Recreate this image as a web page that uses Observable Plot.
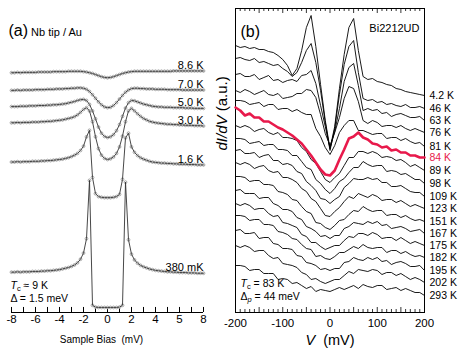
<!DOCTYPE html>
<html><head><meta charset="utf-8">
<script src="https://cdn.jsdelivr.net/npm/d3@7"></script>
<script src="https://cdn.jsdelivr.net/npm/@observablehq/plot@0.6"></script>
<style>
body{margin:0;background:#fff;}
#wrap{position:relative;width:463px;height:356px;overflow:hidden;}
#wrap svg{position:absolute;top:0;}
</style></head><body><div id="wrap"></div>
<script>
// ---------- Panel (a): Nb tip / Au ----------
const biasA = [-8,-7.75,-7.5,-7.25,-7,-6.75,-6.5,-6.25,-6,-5.75,-5.5,-5.25,-5,-4.75,-4.5,-4.25,-4,-3.75,-3.5,-3.25,-3,-2.75,-2.5,-2.25,-2,-1.75,-1.5,-1.25,-1,-0.75,-0.5,-0.25,0,0.25,0.5,0.75,1,1.25,1.5,1.75,2,2.25,2.5,2.75,3,3.25,3.5,3.75,4,4.25,4.5,4.75,5,5.25,5.5,5.75,6,6.25,6.5,6.75,7,7.25,7.5,7.75,8];
const g86K = [6.66,6.66,6.67,6.66,6.67,6.67,6.67,6.67, 6.67,6.68,6.68,6.68,6.68,6.68,6.69,6.69, 6.69,6.69,6.69,6.7,6.7,6.7,6.7,6.7, 6.69,6.68,6.66,6.64,6.61,6.58,6.55,6.53, 6.52,6.53,6.55,6.58,6.61,6.64,6.66,6.68, 6.69,6.7,6.7,6.7,6.7,6.7,6.7,6.7, 6.7,6.7,6.7,6.7,6.7,6.7,6.71,6.71, 6.71,6.71,6.71,6.71,6.71,6.71,6.71,6.71,6.71];
const g70K = [6.17,6.17,6.18,6.17,6.18,6.18,6.18,6.18, 6.19,6.19,6.19,6.19,6.2,6.2,6.2,6.21, 6.21,6.21,6.22,6.22,6.23,6.23,6.24,6.24, 6.23,6.2,6.14,6.05,5.95,5.85,5.77,5.71, 5.69,5.7,5.75,5.83,5.93,6.03,6.12,6.18, 6.22,6.23,6.23,6.22,6.22,6.21,6.21,6.21, 6.2,6.2,6.2,6.2,6.19,6.19,6.19,6.19, 6.19,6.18,6.18,6.18,6.18,6.18,6.18,6.18,6.18];
const g50K = [5.72,5.72,5.72,5.73,5.73,5.73,5.74,5.74, 5.74,5.75,5.75,5.75,5.76,5.76,5.77,5.77, 5.78,5.79,5.8,5.82,5.84,5.86,5.89,5.91, 5.92,5.89,5.78,5.6,5.38,5.15,4.98,4.89, 4.86,4.88,4.94,5.05,5.22,5.45,5.68,5.83, 5.89,5.88,5.85,5.82,5.79,5.77,5.75,5.73, 5.72,5.71,5.71,5.7,5.7,5.7,5.69,5.69, 5.69,5.69,5.68,5.68,5.68,5.67,5.67,5.67,5.67];
const g30K = [5.27,5.27,5.28,5.27,5.28,5.28,5.28,5.29, 5.29,5.29,5.3,5.3,5.31,5.31,5.32,5.33, 5.34,5.35,5.37,5.39,5.41,5.44,5.49,5.56, 5.64,5.69,5.6,5.3,4.88,4.55,4.37,4.28, 4.25,4.27,4.32,4.42,4.6,4.9,5.3,5.6, 5.67,5.6,5.52,5.45,5.39,5.35,5.31,5.29, 5.27,5.26,5.25,5.24,5.23,5.23,5.22,5.22, 5.21,5.21,5.2,5.2,5.2,5.19,5.19,5.19,5.18];
const g16K = [4.18,4.18,4.19,4.18,4.19,4.19,4.19,4.2, 4.2,4.2,4.21,4.21,4.22,4.22,4.23,4.24, 4.25,4.26,4.28,4.3,4.33,4.37,4.42,4.5, 4.62,4.88,5.06,3.75,3.3,3.22,3.2,3.19, 3.19,3.19,3.2,3.22,3.28,3.7,4.85,4.98, 4.6,4.45,4.36,4.3,4.26,4.23,4.2,4.18, 4.17,4.16,4.15,4.15,4.14,4.14,4.13,4.13, 4.12,4.12,4.12,4.11,4.11,4.11,4.1,4.1,4.1];
const g380mK = [1.12,1.12,1.13,1.12,1.13,1.13,1.13,1.14, 1.14,1.14,1.15,1.15,1.16,1.16,1.17,1.18, 1.19,1.21,1.23,1.25,1.28,1.32,1.38,1.48, 1.65,2.05,3.67,0.2,0.15,0.14,0.14,0.14, 0.14,0.14,0.14,0.14,0.15,0.2,3.62,2.02, 1.62,1.46,1.37,1.31,1.27,1.24,1.21,1.19, 1.17,1.16,1.15,1.14,1.13,1.13,1.12,1.12, 1.11,1.11,1.11,1.1,1.1,1.1,1.09,1.09,1.09];
const namesA = ["8.6 K","7.0 K","5.0 K","3.0 K","1.6 K","380 mK"];
const curvesA = [g86K,g70K,g50K,g30K,g16K,g380mK];
const ticksA = [-8,-6,-4,-2,0,2,4,6,8];
const tickLabelsA = ["-8","-6","-4","-2","0","2","4","5","8"];
const minorA = [-8,-7,-6,-5,-4,-3,-2,-1,0,1,2,3,4,5,6,7,8];

// ---------- Panel (b): Bi2212UD ----------
const vB = [-200,-190,-180,-170,-160,-150,-140,-130,-120,-110,-100,-90,-80,-70,-60,-50,-40,-30,-20,-10,0,10,20,30,40,50,60,70,80,90,100,110,120,130,140,150,160,170,180,190,200];
const c4K  = [267,265,266,264,265,263,263,261,260,257,253,247,237,244,262,285,297,266,228,192,164,186,224,258,285,294,262,236,233,234,231,230,228,227,224,223,221,220,219,218,217];
const c46K = [254,255,253,252,254,250,251,249,247,248,244,241,236,240,250,262,269,250,222,190,162,184,218,248,266,272,240,214,212,213,210,211,208,209,207,206,208,205,205,206,204];
const c63K = [238,239,236,236,238,233,235,237,232,233,230,232,233,231,237,238,242,229,207,186,164,181,204,231,245,249,227,202,204,202,203,199,200,196,198,199,197,195,195,196,192];
const c76K = [222,220,223,221,218,220,222,218,217,219,214,215,216,219,219,223,222,215,198,179,167,180,195,214,226,224,211,192,189,192,190,186,187,187,185,187,184,182,184,182,180];
const c81K = [212,212,211,208,209,210,206,208,208,203,204,204,201,203,200,198,198,184,176,165,158,167,180,187,192,192,182,182,180,178,179,179,174,175,175,172,174,171,169,170,166];
const c84K = [205,202,197,199,195,195,191,191,188,185,183,180,177,173,169,163,157,150,143,138,137,142,153,163,174,176,180,175,173,169,168,165,166,162,163,160,160,157,157,155,155];
const c89K = [187,185,187,185,181,183,184,180,178,180,175,175,174,172,165,161,153,149,141,133,130,135,139,147,155,155,161,161,159,161,159,155,156,155,152,153,150,146,148,145,142];
const c98K = [174,174,173,169,170,171,167,168,168,163,163,162,157,157,151,145,143,133,129,123,119,124,131,134,140,145,145,151,148,146,147,147,141,142,141,138,139,136,133,133,129];
const c109K = [162,163,159,159,160,155,157,158,152,152,148,149,147,141,139,131,127,122,114,113,109,113,116,125,129,134,133,133,135,133,134,130,130,126,126,127,124,121,120,120,116];
const c123K = [150,148,150,148,144,146,147,142,140,141,135,135,133,130,124,121,114,111,104,97,96,101,105,111,116,114,119,117,115,118,116,112,113,113,110,112,109,106,108,106,104];
const c151K = [136,136,135,131,132,132,128,128,127,121,120,118,113,112,106,101,99,90,89,85,83,87,92,93,98,102,101,106,103,101,102,102,97,98,98,95,97,94,92,93,91];
const c167K = [122,123,119,119,119,114,115,115,109,107,103,103,101,95,93,86,84,81,76,77,74,77,77,84,86,90,89,88,91,89,91,87,88,84,85,86,84,81,82,83,79];
const c175K = [109,107,109,107,103,104,104,99,96,97,90,89,87,85,78,76,70,70,66,63,65,67,67,72,76,75,79,79,77,80,78,74,75,75,72,75,72,69,71,69,67];
const c182K = [97,97,96,92,93,93,88,88,87,81,80,78,74,73,68,64,63,56,57,54,53,56,60,60,63,66,64,68,65,64,65,65,60,62,62,59,61,58,56,57,55];
const c195K = [82,83,79,79,80,74,75,75,69,68,64,64,63,57,56,50,49,47,43,44,42,44,44,50,51,55,53,52,55,53,55,51,52,48,50,51,49,46,46,47,42];
const c202K = [67,65,67,65,61,62,62,57,54,55,49,48,47,45,40,38,33,34,31,29,31,33,33,37,41,39,43,42,41,43,42,38,40,40,37,39,36,33,35,33,30];
const c293K = [47,47,46,42,43,43,39,39,39,33,34,33,29,30,27,24,26,21,23,22,21,23,25,23,25,27,24,28,26,25,27,27,23,24,25,22,24,22,20,20,17];
const namesB = ["4.2 K","46 K","63 K","76 K","81 K","84 K","89 K","98 K","109 K","123 K","151 K","167 K","175 K","182 K","195 K","202 K","293 K"];
const curvesB = [c4K,c46K,c63K,c76K,c81K,c84K,c89K,c98K,c109K,c123K,c151K,c167K,c175K,c182K,c195K,c202K,c293K];
const highlightB = "84 K";
const ticksB = [-200,-100,0,100,200];
const tickLabelsB = ["-200","-100","0","100","200"];
const minorB = [-190,-180,-170,-160,-140,-130,-120,-110,-90,-80,-70,-60,-40,-30,-20,-10,10,20,30,40,60,70,80,90,110,120,130,140,160,170,180,190];
const majorB = [-150,-100,-50,0,50,100,150];

// ---------- build tables ----------
const rowsA = [];
namesA.forEach((n, k) => biasA.forEach((v, i) => rowsA.push({T: n, V: v, G: curvesA[k][i]})));
const endsA = namesA.map((n, k) => ({T: n, V: biasA[biasA.length - 1], G: curvesA[k][curvesA[k].length - 1]}));
const rowsB = [];
namesB.forEach((n, k) => vB.forEach((v, i) => rowsB.push({T: n, V: v, G: curvesB[k][i]})));
const endsB = namesB.map((n, k) => ({T: n, V: vB[vB.length - 1], G: curvesB[k][curvesB[k].length - 1]}));

const FONT = "'Liberation Sans', Arial, Helvetica, sans-serif";
const RED = "#e8194b";
const baseStyle = {background: "transparent", fontFamily: FONT, fontSize: "11px", color: "black", overflow: "visible"};

const plotA = Plot.plot({
  width: 213, height: 356,
  marginLeft: 11, marginRight: 10, marginTop: 6, marginBottom: 44,
  style: baseStyle,
  x: {domain: [-8, 8], axis: null},
  y: {domain: [0, 8.5], axis: null},
  marks: [
    Plot.ruleY([0], {stroke: "black", strokeWidth: 1}),
    Plot.ruleX(minorA, {y1: 0, y2: 0.14, stroke: "black", strokeWidth: 1}),
    Plot.axisX(ticksA, {anchor: "bottom", tickSize: 0, tickPadding: 2, label: null, fontSize: 11.5,
      tickFormat: d => tickLabelsA[ticksA.indexOf(d)]}),
    Plot.dot(rowsA, {x: "V", y: "G", r: 1.4, stroke: "#8f8f8f", strokeWidth: 0.8, fill: "white"}),
    Plot.line(rowsA, {x: "V", y: "G", z: "T", stroke: "#333", strokeWidth: 0.9}),
    Plot.text(endsA, {x: "V", y: "G", text: "T", textAnchor: "end", dy: -5.5, fontSize: 11}),
    Plot.text(["(a) Nb tip / Au"], {text: d => d, frameAnchor: "top-left", textAnchor: "start", dx: -3, dy: 21.5, fontSize: 11}),
    Plot.text(["Tc ≈ 9 K"], {text: d => d, frameAnchor: "bottom-left", textAnchor: "start", dx: -1, dy: -24, fontSize: 10.5}),
    Plot.text(["Δ = 1.5 meV"], {text: d => d, frameAnchor: "bottom-left", textAnchor: "start", dx: -1, dy: -11, fontSize: 10.5}),
    Plot.text(["Sample Bias  (mV)"], {text: d => d, frameAnchor: "bottom", dx: -6, dy: 30, fontSize: 10})
  ]
});

const plotB = Plot.plot({
  width: 250, height: 356,
  marginLeft: 22, marginRight: 39, marginTop: 8, marginBottom: 44,
  style: baseStyle,
  x: {domain: [-200, 200], axis: null},
  y: {domain: [0, 304], axis: null},
  marks: [
    Plot.ruleX(minorB, {y1: 0, y2: 3, stroke: "black", strokeWidth: 0.8}),
    Plot.ruleX(majorB, {y1: 0, y2: 5, stroke: "black", strokeWidth: 0.8}),
    Plot.ruleX(minorB, {y1: 304, y2: 301, stroke: "black", strokeWidth: 0.8}),
    Plot.ruleX(majorB, {y1: 304, y2: 299, stroke: "black", strokeWidth: 0.8}),
    Plot.frame({stroke: "black", strokeWidth: 1}),
    Plot.axisX(ticksB, {anchor: "bottom", tickSize: 0, tickPadding: 6, label: null, fontSize: 11.5,
      tickFormat: d => tickLabelsB[ticksB.indexOf(d)]}),
    Plot.line(rowsB, {filter: d => d.T !== highlightB, x: "V", y: "G", z: "T", stroke: "black", strokeWidth: 0.9}),
    Plot.line(rowsB, {filter: d => d.T === highlightB, x: "V", y: "G", z: "T", stroke: RED, strokeWidth: 2.6}),
    Plot.text(endsB, {x: "V", y: "G", text: "T", textAnchor: "start", dx: 5, fontSize: 10.5,
      fill: d => d.T === highlightB ? RED : "black"}),
    Plot.text(["(b)"], {text: d => d, frameAnchor: "top-left", textAnchor: "start", dx: 5, dy: 17.5, fontSize: 16}),
    Plot.text(["Bi2212UD"], {text: d => d, frameAnchor: "top-right", textAnchor: "end", dx: -5, dy: 16, fontSize: 11}),
    Plot.text(["Tc = 83 K"], {text: d => d, frameAnchor: "bottom-left", textAnchor: "start", dx: 5, dy: -26, fontSize: 10.5}),
    Plot.text(["Δp = 44 meV"], {text: d => d, frameAnchor: "bottom-left", textAnchor: "start", dx: 5, dy: -13, fontSize: 10.5}),
    Plot.text(["V  (mV)"], {text: d => d, frameAnchor: "bottom", dy: 32, fontSize: 14.5}),
    Plot.text(["dI/dV (a.u.)"], {text: d => d, frameAnchor: "left", rotate: -90, dx: -13, dy: -10, fontSize: 15})
  ]
});

const rich = {
  "(a) Nb tip / Au": '<tspan font-size="16">(a)</tspan> Nb tip / Au',
  "Tc ≈ 9 K": '<tspan font-style="italic">T</tspan><tspan font-size="7.5" dy="2.5">c</tspan><tspan dy="-2.5"> ≈ 9 K</tspan>',
  "Tc = 83 K": '<tspan font-style="italic">T</tspan><tspan font-size="7.5" dy="2.5">c</tspan><tspan dy="-2.5"> = 83 K</tspan>',
  "Δp = 44 meV": 'Δ<tspan font-size="7.5" font-style="italic" dy="2.5">p</tspan><tspan dy="-2.5"> = 44 meV</tspan>',
  "V  (mV)": '<tspan font-style="italic">V</tspan>  (mV)',
  "dI/dV (a.u.)": '<tspan font-style="italic">dI/dV</tspan> (a.u.)'
};
for (const svg of [plotA, plotB]) {
  svg.querySelectorAll("text").forEach(t => {
    const k = t.textContent;
    if (rich[k]) t.innerHTML = rich[k];
  });
}
plotA.style.left = "0px";
plotB.style.left = "213px";
const wrap = document.getElementById("wrap");
wrap.appendChild(plotA);
wrap.appendChild(plotB);
</script></body></html>
